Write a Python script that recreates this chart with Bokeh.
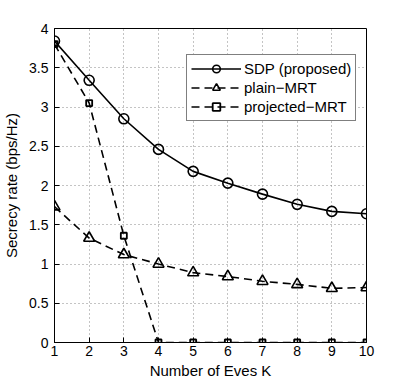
from bokeh.plotting import figure
from bokeh.models import Legend, LegendItem, FixedTicker, Range1d
from bokeh.embed import file_html
from bokeh.resources import INLINE

K = [1, 2, 3, 4, 5, 6, 7, 8, 9, 10]
sdp = [3.84, 3.34, 2.85, 2.46, 2.18, 2.03, 1.89, 1.76, 1.67, 1.64]
plain_mrt = [1.73, 1.33, 1.12, 1.00, 0.89, 0.84, 0.78, 0.74, 0.69, 0.70]
proj_mrt = [3.80, 3.05, 1.36, 0, 0, 0, 0, 0, 0, 0]
x_ticks = [1, 2, 3, 4, 5, 6, 7, 8, 9, 10]
y_ticks = [0, 0.5, 1, 1.5, 2, 2.5, 3, 3.5, 4]

FONT = "Liberation Sans"

p = figure(width=396, height=382, output_backend="svg", toolbar_location=None,
           x_range=Range1d(1, 10), y_range=Range1d(0, 4),
           min_border_left=52, min_border_top=28, min_border_right=30, min_border_bottom=40)

p.outline_line_color = "black"
p.outline_line_width = 1
p.background_fill_color = "white"
p.border_fill_color = "white"

for ax in (p.xaxis[0], p.yaxis[0]):
    ax.major_tick_in = 5
    ax.major_tick_out = 0
    ax.minor_tick_in = 0
    ax.minor_tick_out = 0
    ax.axis_line_color = "black"
    ax.major_tick_line_color = "black"
    ax.major_label_text_font = FONT
    ax.major_label_text_font_size = "14px"
    ax.major_label_text_color = "black"
    ax.axis_label_text_font = FONT
    ax.axis_label_text_font_size = "15px"
    ax.axis_label_text_font_style = "normal"
    ax.axis_label_text_color = "black"

p.xaxis.ticker = FixedTicker(ticks=x_ticks)
p.yaxis.ticker = FixedTicker(ticks=y_ticks)
p.xaxis.axis_label = "Number of Eves K"
p.yaxis.axis_label = "Secrecy rate (bps/Hz)"
p.xaxis.major_label_standoff = 3
p.yaxis.major_label_standoff = 6
p.xaxis.axis_label_standoff = 3
p.yaxis.axis_label_standoff = 6

p.xgrid.ticker = FixedTicker(ticks=x_ticks)
p.ygrid.ticker = FixedTicker(ticks=y_ticks)
for g in (p.xgrid[0], p.ygrid[0]):
    g.grid_line_color = "#888888"
    g.grid_line_dash = "1 3"
    g.grid_line_width = 1

l1 = p.line(K, sdp, line_color="black", line_width=1.6)
s1 = p.scatter(K, sdp, marker="circle", size=10, fill_color=None, line_color="black", line_width=1.6)
l2 = p.line(K, plain_mrt, line_color="black", line_width=1.6, line_dash="8 5")
s2 = p.scatter(K, plain_mrt, marker="triangle", size=11, fill_color=None, line_color="black", line_width=1.6)
l3 = p.line(K, proj_mrt, line_color="black", line_width=1.6, line_dash="8 5")
s3 = p.scatter(K, proj_mrt, marker="square", size=6, fill_color=None, line_color="black", line_width=1.8)

legend = Legend(items=[
    LegendItem(label="SDP (proposed)", renderers=[l1, s1]),
    LegendItem(label="plain\u2212MRT", renderers=[l2, s2]),
    LegendItem(label="projected\u2212MRT", renderers=[l3, s3]),
], location=(132, 221))
legend.label_text_font = FONT
legend.label_text_font_size = "15px"
legend.label_text_color = "black"
legend.border_line_color = "black"
legend.border_line_width = 1
legend.background_fill_alpha = 1
legend.glyph_width = 50
legend.glyph_height = 19
legend.spacing = 0
legend.padding = 4
legend.margin = 0
legend.label_standoff = 3
legend.label_height = 19
p.add_layout(legend)

open("out.html", "w").write(file_html(p, INLINE))
